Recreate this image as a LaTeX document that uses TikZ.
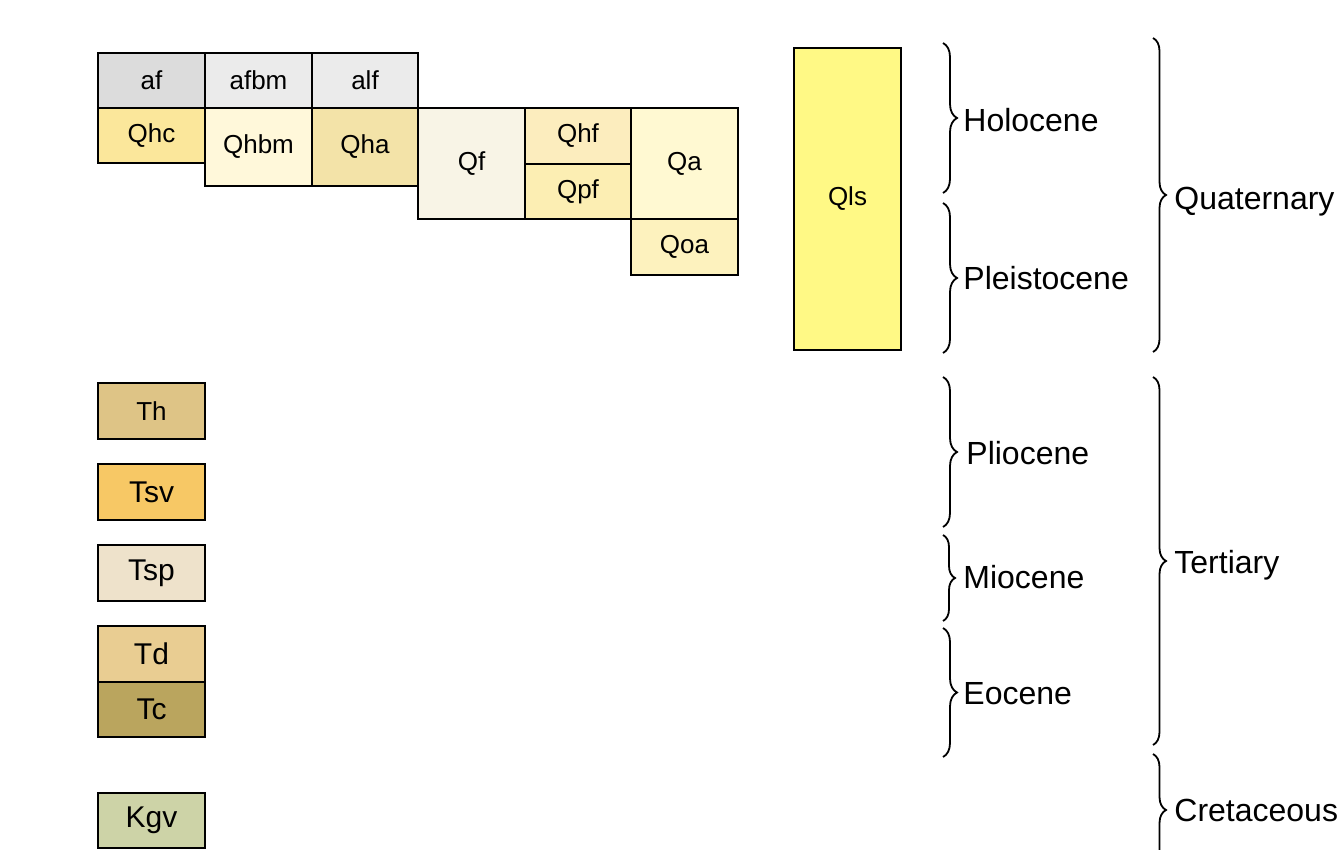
\documentclass[tikz,border=0pt]{standalone}
\usepackage{fontspec}
\setmainfont{Liberation Sans}
\usetikzlibrary{decorations.pathreplacing}

\definecolor{cAf}{HTML}{DCDCDC}
\definecolor{cAfbm}{HTML}{EBEBEB}
\definecolor{cAlf}{HTML}{EBEBEB}
\definecolor{cQhc}{HTML}{FBE79B}
\definecolor{cQhbm}{HTML}{FFF8DA}
\definecolor{cQha}{HTML}{F3E3A8}
\definecolor{cQf}{HTML}{F8F4E6}
\definecolor{cQhf}{HTML}{FCEDBE}
\definecolor{cQpf}{HTML}{FCEEB3}
\definecolor{cQa}{HTML}{FFF9D2}
\definecolor{cQoa}{HTML}{FDF2BE}
\definecolor{cQls}{HTML}{FFF985}
\definecolor{cTh}{HTML}{DEC486}
\definecolor{cTsv}{HTML}{F7C865}
\definecolor{cTsp}{HTML}{EEE2CB}
\definecolor{cTd}{HTML}{E9CD92}
\definecolor{cTc}{HTML}{BAA55E}
\definecolor{cKgv}{HTML}{CDD3A7}

\tikzset{
  unit box/.style 2 args={draw=black, line width=1pt, rectangle, inner sep=0pt,
    minimum width=#1*0.5pt, minimum height=#2*0.5pt},
  small label/.style={font=\fontsize{13}{15}\selectfont},
  big label/.style={font=\fontsize{15}{18}\selectfont},
  age label/.style={anchor=west, inner sep=0pt, font=\fontsize{16}{19}\selectfont},
  brace line/.style={decorate, line width=0.9pt,
    decoration={brace, amplitude=#1}},
}

\begin{document}
\begin{tikzpicture}[x=0.5pt, y=-0.5pt]
\useasboundingbox (0,0) rectangle (1343,850);

% alluvial fan row
\node[unit box={107}{55}, fill=cAf, small label]   (af)   at (151.5,80.5) {af};
\node[unit box={107}{55}, fill=cAfbm, small label] (afbm) at (258.5,80.5) {afbm};
\node[unit box={106}{55}, fill=cAlf, small label]  (alf)  at (365,80.5) {alf};

% Quaternary units
\node[unit box={107}{55}, fill=cQhc, small label]  (Qhc)  at (151.5,135.5) {Qhc};
\node[unit box={107}{78}, fill=cQhbm, small label] (Qhbm) at (258.5,147) {Qhbm};
\node[unit box={106}{78}, fill=cQha, small label]  (Qha)  at (365,147) {Qha};
\node[unit box={107}{111}, fill=cQf, small label]  (Qf)   at (471.5,163.5) {Qf};
\node[unit box={106}{56}, fill=cQhf, small label]  (Qhf)  at (578,136) {Qhf};
\node[unit box={106}{55}, fill=cQpf, small label]  (Qpf)  at (578,191.5) {Qpf};
\node[unit box={107}{111}, fill=cQa, small label]  (Qa)   at (684.5,163.5) {Qa};
\node[unit box={107}{56}, fill=cQoa, small label]  (Qoa)  at (684.5,247) {Qoa};
\node[unit box={107}{302}, fill=cQls, small label] (Qls)  at (847.5,199) {Qls};

% Tertiary and Cretaceous units
\node[unit box={107}{56}, fill=cTh, small label] (Th)  at (151.5,411) {Th};
\node[unit box={107}{56}, fill=cTsv, big label]  (Tsv) at (151.5,492) {Tsv};
\node[unit box={107}{56}, fill=cTsp, big label]  (Tsp) at (151.5,573) {Tsp};
\node[unit box={107}{56}, fill=cTd, big label]   (Td)  at (151.5,654) {Td};
\node[unit box={107}{55}, fill=cTc, big label]   (Tc)  at (151.5,709.5) {Tc};
\node[unit box={107}{55}, fill=cKgv, big label]  (Kgv) at (151.5,820.5) {Kgv};

% epoch braces
\coordinate (holT) at (943,43);  \coordinate (holB) at (943,193);
\coordinate (pleT) at (943,203); \coordinate (pleB) at (943,353);
\coordinate (pliT) at (943,377); \coordinate (pliB) at (943,527);
\coordinate (mioT) at (943,535); \coordinate (mioB) at (943,621);
\coordinate (eocT) at (943,628); \coordinate (eocB) at (943,757);
\draw[brace line=7pt] (holT) -- (holB);
\draw[brace line=7pt] (pleT) -- (pleB);
\draw[brace line=7pt] (pliT) -- (pliB);
\draw[brace line=6pt] (mioT) -- (mioB);
\draw[brace line=7pt] (eocT) -- (eocB);

\node[age label] (hol) at (963,120) {Holocene};
\node[age label] (ple) at (963,278) {Pleistocene};
\node[age label] (pli) at (966,453) {Pliocene};
\node[age label] (mio) at (963,577) {Miocene};
\node[age label] (eoc) at (963,694) {Eocene};

% period braces
\coordinate (quaT) at (1153,38);  \coordinate (quaB) at (1153,352);
\coordinate (terT) at (1153,377); \coordinate (terB) at (1153,745);
\coordinate (creT) at (1153,754); \coordinate (creB) at (1153,866);
\draw[brace line=6.5pt] (quaT) -- (quaB);
\draw[brace line=6.5pt] (terT) -- (terB);
\draw[brace line=6.5pt] (creT) -- (creB);

\node[age label] (qua) at (1174,202) {Quaternary};
\node[age label] (ter) at (1174,565) {Tertiary};
\node[age label] (cre) at (1174,810) {Cretaceous};
\end{tikzpicture}
\end{document}
